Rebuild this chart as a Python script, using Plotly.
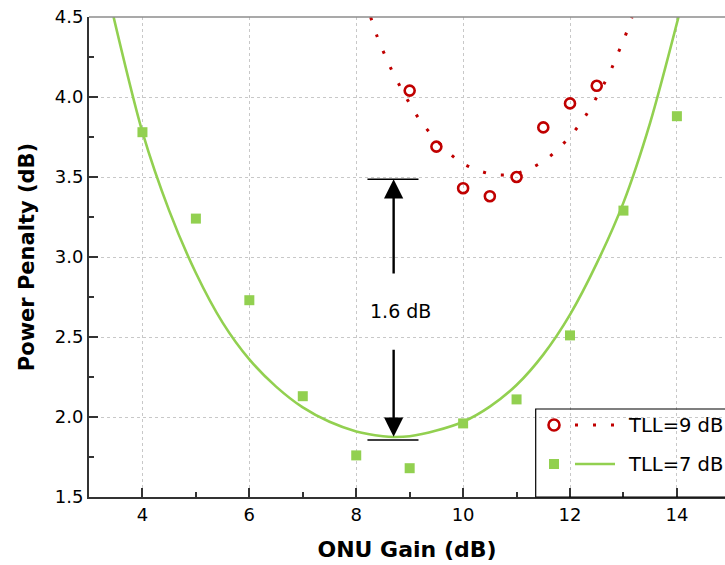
import plotly.graph_objects as go

# ---- data ----
gain_7 = [4, 5, 6, 7, 8, 9, 10, 11, 12, 13, 14]
penalty_7 = [3.78, 3.24, 2.73, 2.13, 1.76, 1.68, 1.96, 2.11, 2.51, 3.29, 3.88]

gain_9 = [9, 9.5, 10, 10.5, 11, 11.5, 12, 12.5]
penalty_9 = [4.04, 3.69, 3.43, 3.38, 3.50, 3.81, 3.96, 4.07]

# fitted curves
fit7_x = [3.46, 4.0, 4.5, 5.0, 5.5, 6.0, 6.5, 7.0, 7.5, 8.0, 8.5, 8.7, 9.0, 9.5, 10.0, 10.5, 11.0, 11.5, 12.0, 12.5, 13.0, 13.5, 14.03]
fit7_y = [4.50, 3.78, 3.29, 2.90, 2.59, 2.36, 2.19, 2.06, 1.97, 1.91, 1.88, 1.875, 1.88, 1.915, 1.97, 2.065, 2.20, 2.39, 2.64, 2.96, 3.34, 3.84, 4.50]

fit9_x = [8.27, 8.40, 8.54, 8.69, 9.05, 9.27, 9.88, 10.23, 10.56, 10.90, 11.22, 11.55, 11.88, 12.16, 12.38, 12.74, 12.88, 13.02, 13.16]
fit9_y = [4.50, 4.37, 4.26, 4.15, 3.93, 3.82, 3.61, 3.548, 3.517, 3.517, 3.548, 3.61, 3.71, 3.82, 3.93, 4.15, 4.26, 4.37, 4.50]

x_ticks = [4, 6, 8, 10, 12, 14]
y_ticks = [1.5, 2.0, 2.5, 3.0, 3.5, 4.0, 4.5]
series_names = ["TLL=9 dB", "TLL=7 dB"]
delta_label = "1.6 dB"

RED = "#C00000"
GREEN = "#92D050"
FONT = "DejaVu Sans"

fig = go.Figure()
fig.add_trace(go.Scatter(x=fit7_x, y=fit7_y, mode="lines", line=dict(color=GREEN, width=2.6, shape="spline", smoothing=0.8),
                         name=series_names[1] + " fit", showlegend=False, hoverinfo="skip"))
fig.add_trace(go.Scatter(x=fit9_x, y=fit9_y, mode="lines", line=dict(color=RED, width=3, dash="3px,15px", shape="spline", smoothing=1.0),
                         name=series_names[0] + " fit", showlegend=False, hoverinfo="skip"))
fig.add_trace(go.Scatter(x=gain_7, y=penalty_7, mode="markers", name=series_names[1],
                         marker=dict(symbol="square", size=10, color=GREEN), showlegend=False))
fig.add_trace(go.Scatter(x=gain_9, y=penalty_9, mode="markers", name=series_names[0],
                         marker=dict(symbol="circle-open", size=10, color=RED, line=dict(width=2.6, color=RED)), showlegend=False))

shapes = []
# top frame line (gray)
shapes.append(dict(type="line", xref="paper", yref="paper", x0=0, x1=1, y0=1, y1=1, line=dict(color="#8c8c8c", width=1.5)))
# delta bars
shapes.append(dict(type="line", xref="x", yref="y", x0=8.21, x1=9.165, y0=3.486, y1=3.486, line=dict(color="black", width=1.5)))
shapes.append(dict(type="line", xref="x", yref="y", x0=8.21, x1=9.165, y0=1.856, y1=1.856, line=dict(color="black", width=1.5)))

# manual legend
def px2x(px):
    return (px - 89) / 636.0

def py2y(py):
    return (497 - py) / 480.0

shapes.append(dict(type="rect", xref="paper", yref="paper", x0=px2x(535.7), x1=1.05, y0=py2y(497), y1=py2y(409),
                   line=dict(color="black", width=1.2), fillcolor="rgba(0,0,0,0)"))
shapes.append(dict(type="circle", xref="paper", yref="paper", xsizemode="pixel", ysizemode="pixel",
                   xanchor=px2x(554), yanchor=py2y(425), x0=-5.5, x1=5.5, y0=-5.5, y1=5.5,
                   line=dict(color=RED, width=2.6)))
shapes.append(dict(type="line", xref="paper", yref="paper", x0=px2x(575), x1=px2x(616), y0=py2y(425), y1=py2y(425),
                   line=dict(color=RED, width=3, dash="3px,15px")))
shapes.append(dict(type="rect", xref="paper", yref="paper", xsizemode="pixel", ysizemode="pixel",
                   xanchor=px2x(554), yanchor=py2y(464), x0=-5, x1=5, y0=-5, y1=5,
                   line=dict(width=0), fillcolor=GREEN))
shapes.append(dict(type="line", xref="paper", yref="paper", x0=px2x(575), x1=px2x(615), y0=py2y(464), y1=py2y(464),
                   line=dict(color=GREEN, width=2.6)))

annotations = [
    dict(x=8.70, y=3.486, ax=8.70, ay=2.887, xref="x", yref="y", axref="x", ayref="y", text="", showarrow=True,
         arrowhead=2, arrowsize=1.6, arrowwidth=2.4, arrowcolor="black", standoff=0),
    dict(x=8.70, y=1.877, ax=8.70, ay=2.43, xref="x", yref="y", axref="x", ayref="y", text="", showarrow=True,
         arrowhead=2, arrowsize=1.6, arrowwidth=2.4, arrowcolor="black", standoff=0),
    dict(x=8.83, y=2.66, xref="x", yref="y", text=delta_label, showarrow=False, font=dict(family=FONT, size=19, color="black")),
    dict(x=px2x(626), y=py2y(425), xref="paper", yref="paper", text=series_names[0], showarrow=False, xanchor="left",
         yanchor="middle", font=dict(family=FONT, size=19.5, color="black")),
    dict(x=px2x(626), y=py2y(464), xref="paper", yref="paper", text=series_names[1], showarrow=False, xanchor="left",
         yanchor="middle", font=dict(family=FONT, size=19.5, color="black")),
]

fig.update_layout(
    width=725, height=565,
    margin=dict(l=89, r=0, t=17, b=68),
    paper_bgcolor="white", plot_bgcolor="white",
    font=dict(family=FONT, size=18, color="black"),
    shapes=shapes, annotations=annotations,
    showlegend=False,
)
fig.update_xaxes(
    range=[3, 14.90], tickvals=x_ticks, ticktext=[str(v) for v in x_ticks],
    ticks="inside", ticklen=9, tickwidth=1.5, tickcolor="#333",
    showline=True, linecolor="#333", linewidth=2,
    showgrid=True, gridcolor="#c8c8c8", griddash="dot", gridwidth=1,
    zeroline=False,
    minor=dict(dtick=1, tick0=3, ticks="inside", ticklen=5, tickwidth=1.5, tickcolor="#333", showgrid=False),
    title=dict(text="<b>ONU Gain (dB)</b>", font=dict(family=FONT, size=22), standoff=18),
    tickfont=dict(family=FONT, size=18),
)
fig.update_yaxes(
    range=[1.5, 4.5], tickvals=y_ticks, ticktext=[f"{v:.1f}" for v in y_ticks],
    ticks="inside", ticklen=9, tickwidth=1.5, tickcolor="#333",
    showline=True, linecolor="#333", linewidth=2,
    showgrid=True, gridcolor="#c8c8c8", griddash="dot", gridwidth=1,
    zeroline=False,
    minor=dict(dtick=0.25, tick0=1.5, ticks="inside", ticklen=5, tickwidth=1.5, tickcolor="#333", showgrid=False),
    title=dict(text="<b>Power Penalty (dB)</b>", font=dict(family=FONT, size=21), standoff=14),
    tickfont=dict(family=FONT, size=18),
)

fig.write_html("out.html")
